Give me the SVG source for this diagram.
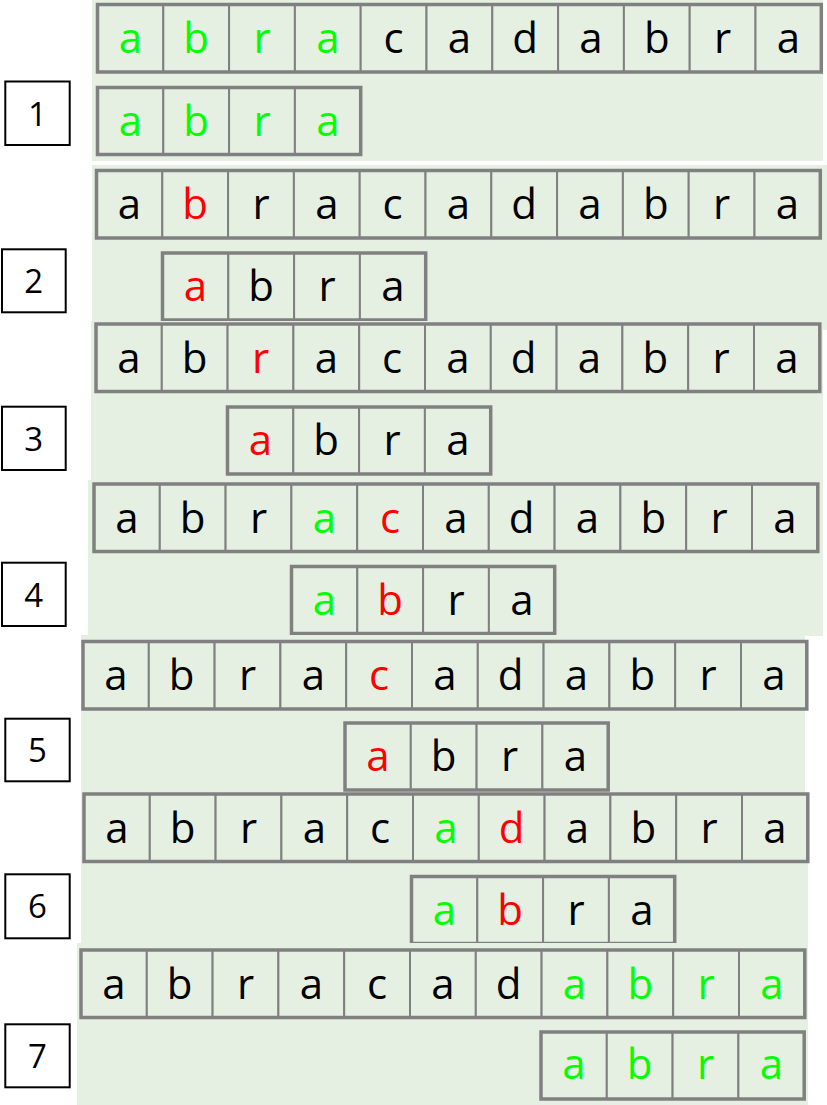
<svg xmlns="http://www.w3.org/2000/svg" xmlns:xlink="http://www.w3.org/1999/xlink" width="827" height="1105" viewBox="0 0 827 1105">
<style>
.bg{fill:#E5F0E3}
.cell{fill:#E5F0E3;stroke:#808080;stroke-width:2}
.frame{fill:none;stroke:#808080;stroke-width:3.5}
.ch{font-family:'Open Sans','Noto Sans',sans-serif;font-size:42px;text-anchor:middle;fill:#000}
.g{fill:#00FF00}
.r{fill:#FF0000}
.num rect{fill:#FFFFFF;stroke:#000000;stroke-width:2}
.num text{font-family:'Open Sans','Noto Sans',sans-serif;font-size:33px;text-anchor:middle;fill:#000}
</style>
<defs>
<g id="row11">
<rect class="cell" x="0" y="0" width="65.8" height="67.5"/>
<rect class="cell" x="65.8" y="0" width="65.8" height="67.5"/>
<rect class="cell" x="131.6" y="0" width="65.8" height="67.5"/>
<rect class="cell" x="197.4" y="0" width="65.8" height="67.5"/>
<rect class="cell" x="263.2" y="0" width="65.8" height="67.5"/>
<rect class="cell" x="329" y="0" width="65.8" height="67.5"/>
<rect class="cell" x="394.8" y="0" width="65.8" height="67.5"/>
<rect class="cell" x="460.6" y="0" width="65.8" height="67.5"/>
<rect class="cell" x="526.4" y="0" width="65.8" height="67.5"/>
<rect class="cell" x="592.2" y="0" width="65.8" height="67.5"/>
<rect class="cell" x="658" y="0" width="65.8" height="67.5"/>
<rect class="frame" x="0" y="0" width="723.8" height="67.5"/>
</g>
<g id="row4">
<rect class="cell" x="0" y="0" width="65.8" height="67"/>
<rect class="cell" x="65.8" y="0" width="65.8" height="67"/>
<rect class="cell" x="131.6" y="0" width="65.8" height="67"/>
<rect class="cell" x="197.4" y="0" width="65.8" height="67"/>
<rect class="frame" x="0" y="0" width="263.2" height="67"/>
</g>
</defs>

<!-- Step 1 -->
<g id="step1">
<rect class="bg" x="92" y="0" width="731" height="161"/>
<g id="step1-text" transform="translate(97.5,4.5)">
<use xlink:href="#row11"/>
<text class="ch g" x="32.9" y="48.5">a</text><text class="ch g" x="98.7" y="48.5">b</text><text class="ch g" x="164.5" y="48.5">r</text><text class="ch g" x="230.3" y="48.5">a</text><text class="ch" x="296.1" y="48.5">c</text><text class="ch" x="361.9" y="48.5">a</text><text class="ch" x="427.7" y="48.5">d</text><text class="ch" x="493.5" y="48.5">a</text><text class="ch" x="559.3" y="48.5">b</text><text class="ch" x="625.1" y="48.5">r</text><text class="ch" x="690.9" y="48.5">a</text>
</g>
<g id="step1-pattern" transform="translate(97.5,87.5)">
<use xlink:href="#row4"/>
<text class="ch g" x="32.9" y="48">a</text><text class="ch g" x="98.7" y="48">b</text><text class="ch g" x="164.5" y="48">r</text><text class="ch g" x="230.3" y="48">a</text>
</g>
<g id="label1" class="num"><rect x="5.3" y="81.5" width="64.4" height="63.5"/><text x="37.5" y="125.5">1</text></g>
</g>

<!-- Step 2 -->
<g id="step2">
<rect class="bg" x="92" y="165" width="735" height="165"/>
<g id="step2-text" transform="translate(96.5,170.5)">
<use xlink:href="#row11"/>
<text class="ch" x="32.9" y="48.5">a</text><text class="ch r" x="98.7" y="48.5">b</text><text class="ch" x="164.5" y="48.5">r</text><text class="ch" x="230.3" y="48.5">a</text><text class="ch" x="296.1" y="48.5">c</text><text class="ch" x="361.9" y="48.5">a</text><text class="ch" x="427.7" y="48.5">d</text><text class="ch" x="493.5" y="48.5">a</text><text class="ch" x="559.3" y="48.5">b</text><text class="ch" x="625.1" y="48.5">r</text><text class="ch" x="690.9" y="48.5">a</text>
</g>
<g id="step2-pattern" transform="translate(162.5,253)">
<use xlink:href="#row4"/>
<text class="ch r" x="32.9" y="48">a</text><text class="ch" x="98.7" y="48">b</text><text class="ch" x="164.5" y="48">r</text><text class="ch" x="230.3" y="48">a</text>
</g>
<g id="label2" class="num"><rect x="2" y="249.3" width="63.7" height="63"/><text x="33.8" y="293">2</text></g>
</g>

<!-- Step 3 -->
<g id="step3">
<rect class="bg" x="91" y="321" width="732" height="159"/>
<g id="step3-text" transform="translate(96,324)">
<use xlink:href="#row11"/>
<text class="ch" x="32.9" y="48.5">a</text><text class="ch" x="98.7" y="48.5">b</text><text class="ch r" x="164.5" y="48.5">r</text><text class="ch" x="230.3" y="48.5">a</text><text class="ch" x="296.1" y="48.5">c</text><text class="ch" x="361.9" y="48.5">a</text><text class="ch" x="427.7" y="48.5">d</text><text class="ch" x="493.5" y="48.5">a</text><text class="ch" x="559.3" y="48.5">b</text><text class="ch" x="625.1" y="48.5">r</text><text class="ch" x="690.9" y="48.5">a</text>
</g>
<g id="step3-pattern" transform="translate(227.5,407)">
<use xlink:href="#row4"/>
<text class="ch r" x="32.9" y="48">a</text><text class="ch" x="98.7" y="48">b</text><text class="ch" x="164.5" y="48">r</text><text class="ch" x="230.3" y="48">a</text>
</g>
<g id="label3" class="num"><rect x="2" y="406.7" width="63.7" height="63.3"/><text x="33.8" y="450.5">3</text></g>
</g>

<!-- Step 4 -->
<g id="step4">
<rect class="bg" x="88" y="480" width="735" height="156"/>
<g id="step4-text" transform="translate(94,484)">
<use xlink:href="#row11"/>
<text class="ch" x="32.9" y="48.5">a</text><text class="ch" x="98.7" y="48.5">b</text><text class="ch" x="164.5" y="48.5">r</text><text class="ch g" x="230.3" y="48.5">a</text><text class="ch r" x="296.1" y="48.5">c</text><text class="ch" x="361.9" y="48.5">a</text><text class="ch" x="427.7" y="48.5">d</text><text class="ch" x="493.5" y="48.5">a</text><text class="ch" x="559.3" y="48.5">b</text><text class="ch" x="625.1" y="48.5">r</text><text class="ch" x="690.9" y="48.5">a</text>
</g>
<g id="step4-pattern" transform="translate(291.5,566.5)">
<use xlink:href="#row4"/>
<text class="ch g" x="32.9" y="48">a</text><text class="ch r" x="98.7" y="48">b</text><text class="ch" x="164.5" y="48">r</text><text class="ch" x="230.3" y="48">a</text>
</g>
<g id="label4" class="num"><rect x="2" y="562.7" width="63.7" height="63.3"/><text x="33.8" y="606.5">4</text></g>
</g>

<!-- Step 5 -->
<g id="step5">
<rect class="bg" x="81" y="635" width="724" height="157"/>
<g id="step5-text" transform="translate(83,641.5)">
<use xlink:href="#row11"/>
<text class="ch" x="32.9" y="48.5">a</text><text class="ch" x="98.7" y="48.5">b</text><text class="ch" x="164.5" y="48.5">r</text><text class="ch" x="230.3" y="48.5">a</text><text class="ch r" x="296.1" y="48.5">c</text><text class="ch" x="361.9" y="48.5">a</text><text class="ch" x="427.7" y="48.5">d</text><text class="ch" x="493.5" y="48.5">a</text><text class="ch" x="559.3" y="48.5">b</text><text class="ch" x="625.1" y="48.5">r</text><text class="ch" x="690.9" y="48.5">a</text>
</g>
<g id="step5-pattern" transform="translate(345,723)">
<use xlink:href="#row4"/>
<text class="ch r" x="32.9" y="48">a</text><text class="ch" x="98.7" y="48">b</text><text class="ch" x="164.5" y="48">r</text><text class="ch" x="230.3" y="48">a</text>
</g>
<g id="label5" class="num"><rect x="5.3" y="718.7" width="64.4" height="62.6"/><text x="37.5" y="762">5</text></g>
</g>

<!-- Step 6 -->
<g id="step6">
<rect class="bg" x="81" y="792" width="727" height="156"/>
<g id="step6-text" transform="translate(84,794)">
<use xlink:href="#row11"/>
<text class="ch" x="32.9" y="48.5">a</text><text class="ch" x="98.7" y="48.5">b</text><text class="ch" x="164.5" y="48.5">r</text><text class="ch" x="230.3" y="48.5">a</text><text class="ch" x="296.1" y="48.5">c</text><text class="ch g" x="361.9" y="48.5">a</text><text class="ch r" x="427.7" y="48.5">d</text><text class="ch" x="493.5" y="48.5">a</text><text class="ch" x="559.3" y="48.5">b</text><text class="ch" x="625.1" y="48.5">r</text><text class="ch" x="690.9" y="48.5">a</text>
</g>
<g id="step6-pattern" transform="translate(411.5,876.5)">
<use xlink:href="#row4"/>
<text class="ch g" x="32.9" y="48">a</text><text class="ch r" x="98.7" y="48">b</text><text class="ch" x="164.5" y="48">r</text><text class="ch" x="230.3" y="48">a</text>
</g>
<g id="label6" class="num"><rect x="5.3" y="874.3" width="64.4" height="64"/><text x="37.5" y="918.3">6</text></g>
</g>

<!-- Step 7 -->
<g id="step7">
<rect class="bg" x="77" y="943" width="731" height="162"/>
<g id="step7-text" transform="translate(81,950)">
<use xlink:href="#row11"/>
<text class="ch" x="32.9" y="48.5">a</text><text class="ch" x="98.7" y="48.5">b</text><text class="ch" x="164.5" y="48.5">r</text><text class="ch" x="230.3" y="48.5">a</text><text class="ch" x="296.1" y="48.5">c</text><text class="ch" x="361.9" y="48.5">a</text><text class="ch" x="427.7" y="48.5">d</text><text class="ch g" x="493.5" y="48.5">a</text><text class="ch g" x="559.3" y="48.5">b</text><text class="ch g" x="625.1" y="48.5">r</text><text class="ch g" x="690.9" y="48.5">a</text>
</g>
<g id="step7-pattern" transform="translate(541,1032)">
<use xlink:href="#row4"/>
<text class="ch g" x="32.9" y="47">a</text><text class="ch g" x="98.7" y="47">b</text><text class="ch g" x="164.5" y="47">r</text><text class="ch g" x="230.3" y="47">a</text>
</g>
<g id="label7" class="num"><rect x="5.3" y="1024.3" width="64.4" height="63"/><text x="37.5" y="1068">7</text></g>
</g>
</svg>
